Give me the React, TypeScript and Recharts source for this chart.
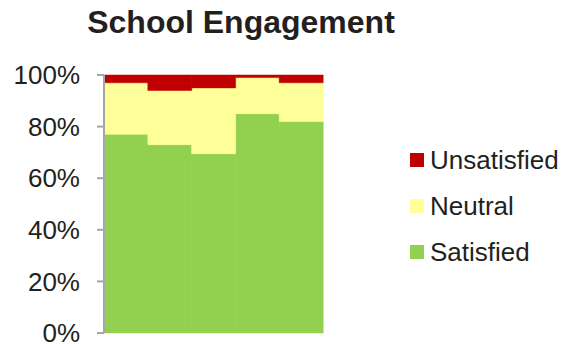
import { BarChart, Bar, XAxis, YAxis } from "recharts";

const groups = ["G1", "G2", "G3", "G4", "G5"];
const satisfied = [77, 73, 69.5, 85, 82];
const neutral = [20, 21, 25.5, 14, 15];
const unsatisfied = [3, 6, 5, 1, 3];
const yTicks = [0, 20, 40, 60, 80, 100];

const seriesList = [
  { key: "unsatisfied", label: "Unsatisfied", color: "#c00000" },
  { key: "neutral", label: "Neutral", color: "#ffff99" },
  { key: "satisfied", label: "Satisfied", color: "#92d050" },
];

const data = groups.map((g, i) => ({
  group: g,
  satisfied: satisfied[i],
  neutral: neutral[i],
  unsatisfied: unsatisfied[i],
}));

const FONT = "'Liberation Sans', Arial, sans-serif";

export default function App() {
  return (
    <div
      style={{
        position: "absolute",
        left: 0,
        top: 0,
        width: 563,
        height: 344,
        background: "#fff",
        fontFamily: FONT,
      }}
    >
      <div
        style={{
          position: "absolute",
          left: 0,
          top: 4,
          width: 482,
          textAlign: "center",
          fontSize: 32,
          fontWeight: "bold",
          color: "#231f20",
        }}
      >
        School Engagement
      </div>
      <BarChart
        width={563}
        height={344}
        data={data}
        margin={{ top: 75, right: 240, bottom: 11, left: 0 }}
        barCategoryGap={0}
        barGap={0}
      >
        <XAxis dataKey="group" hide />
        <YAxis
          width={104}
          domain={[0, 100]}
          ticks={yTicks}
          interval={0}
          tickFormatter={(v) => `${v}%`}
          tickSize={7}
          tickMargin={17}
          axisLine={{ stroke: "#a6a6a6", strokeWidth: 2 }}
          tickLine={{ stroke: "#a6a6a6", strokeWidth: 2 }}
          tick={{ fill: "#231f20", fontSize: 26, fontFamily: FONT }}
        />
        <Bar
          dataKey="satisfied"
          name="Satisfied"
          stackId="a"
          fill="#92d050"
          stroke="#92d050"
          strokeWidth={0.5}
          isAnimationActive={false}
        />
        <Bar
          dataKey="neutral"
          name="Neutral"
          stackId="a"
          fill="#ffff99"
          stroke="#ffff99"
          strokeWidth={0.5}
          isAnimationActive={false}
        />
        <Bar
          dataKey="unsatisfied"
          name="Unsatisfied"
          stackId="a"
          fill="#c00000"
          stroke="#c00000"
          strokeWidth={0.5}
          isAnimationActive={false}
        />
      </BarChart>
      <div style={{ position: "absolute", left: 410, top: 137 }}>
        {seriesList.map((s) => (
          <div
            key={s.key}
            style={{ display: "flex", alignItems: "center", height: 46 }}
          >
            <span
              style={{
                display: "inline-block",
                width: 14,
                height: 14,
                background: s.color,
                marginRight: 6,
              }}
            />
            <span style={{ fontSize: 26, color: "#231f20" }}>{s.label}</span>
          </div>
        ))}
      </div>
    </div>
  );
}
